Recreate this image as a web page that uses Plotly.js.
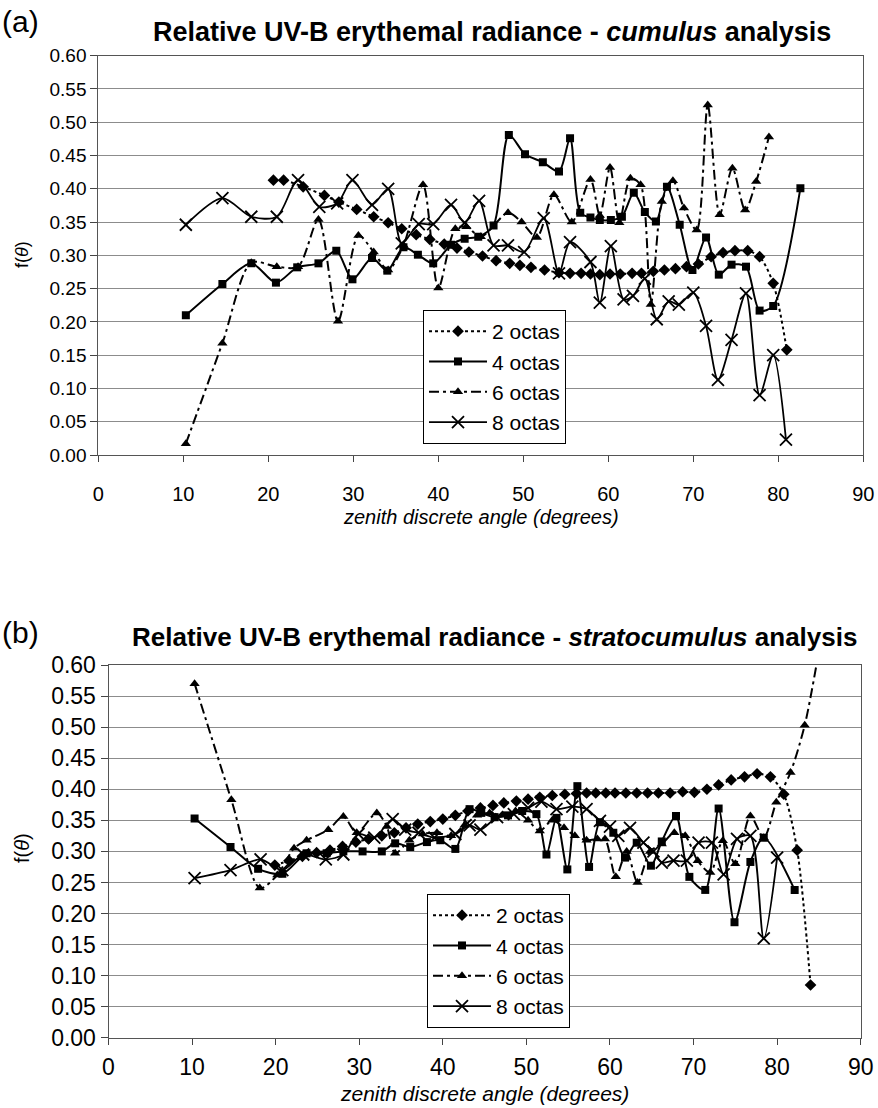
<!DOCTYPE html>
<html>
<head>
<meta charset="utf-8">
<script src="https://cdn.plot.ly/plotly-3.0.1.min.js"></script>
<style>
html, body { margin: 0; padding: 0; background: #ffffff; }
#chart { width: 878px; height: 1108px; }
</style>
</head>
<body>
<div id="chart"></div>
<script>
// ---------- (a) cumulus ----------
const cuAngle2 = [20.6, 21.8, 24.1, 26.6, 28.3, 30.4, 32.4, 34.1, 35.7, 37.4, 39.0, 40.7, 42.2, 43.6, 45.2, 46.8, 48.4, 49.6, 50.9, 52.5, 54.2, 55.5, 56.8, 57.9, 59.0, 60.2, 61.4, 62.8, 63.9, 65.3, 66.6, 67.9, 69.2, 70.6, 72.1, 73.5, 74.9, 76.4, 77.8, 79.4, 81.0];
const cuF2 = [0.413, 0.413, 0.403, 0.390, 0.380, 0.369, 0.358, 0.349, 0.340, 0.331, 0.324, 0.317, 0.311, 0.305, 0.299, 0.292, 0.288, 0.285, 0.282, 0.278, 0.274, 0.273, 0.273, 0.272, 0.271, 0.272, 0.272, 0.273, 0.273, 0.276, 0.278, 0.280, 0.283, 0.287, 0.298, 0.304, 0.307, 0.307, 0.298, 0.258, 0.158];

const cuAngle4 = [10.3, 14.6, 18.0, 20.9, 23.4, 25.9, 28.0, 29.9, 32.2, 34.0, 35.9, 37.6, 39.4, 41.5, 43.1, 44.7, 46.5, 48.3, 50.2, 52.3, 54.2, 55.5, 56.7, 57.9, 59.0, 60.3, 61.6, 63.0, 64.3, 65.6, 66.9, 68.4, 69.9, 71.5, 73.0, 74.5, 76.2, 77.8, 79.4, 82.6];
const cuF4 = [0.210, 0.257, 0.288, 0.259, 0.282, 0.288, 0.307, 0.264, 0.296, 0.277, 0.312, 0.301, 0.288, 0.316, 0.325, 0.328, 0.345, 0.481, 0.452, 0.440, 0.426, 0.476, 0.364, 0.357, 0.353, 0.353, 0.358, 0.394, 0.365, 0.351, 0.403, 0.346, 0.278, 0.327, 0.271, 0.286, 0.283, 0.217, 0.224, 0.401];

const cuAngle6 = [10.3, 14.6, 18.0, 21.0, 23.5, 25.9, 28.2, 30.6, 32.4, 34.1, 35.9, 38.2, 40.0, 42.0, 43.3, 45.0, 48.2, 49.8, 51.6, 53.6, 55.7, 57.9, 59.0, 60.2, 61.3, 62.6, 63.8, 65.0, 66.3, 67.6, 68.9, 70.4, 71.7, 73.1, 74.6, 76.1, 77.4, 78.9];
const cuF6 = [0.017, 0.168, 0.289, 0.283, 0.283, 0.354, 0.201, 0.330, 0.305, 0.278, 0.315, 0.406, 0.251, 0.340, 0.343, 0.328, 0.364, 0.350, 0.327, 0.391, 0.350, 0.414, 0.360, 0.432, 0.349, 0.416, 0.406, 0.226, 0.381, 0.412, 0.371, 0.338, 0.526, 0.361, 0.431, 0.368, 0.411, 0.478];

const cuAngle8 = [10.3, 14.6, 18.0, 21.0, 23.5, 26.0, 28.1, 29.9, 32.2, 34.1, 35.7, 37.7, 39.4, 41.5, 43.1, 44.8, 46.5, 48.2, 50.1, 52.4, 54.2, 55.5, 57.9, 59.0, 60.3, 61.8, 62.9, 64.3, 65.7, 67.1, 68.3, 70.0, 71.5, 72.9, 74.5, 76.2, 77.8, 79.4, 80.9];
const cuF8 = [0.346, 0.386, 0.358, 0.358, 0.413, 0.373, 0.378, 0.413, 0.376, 0.400, 0.318, 0.347, 0.347, 0.376, 0.349, 0.382, 0.315, 0.315, 0.305, 0.356, 0.273, 0.320, 0.290, 0.229, 0.314, 0.234, 0.239, 0.265, 0.204, 0.231, 0.226, 0.244, 0.194, 0.113, 0.173, 0.243, 0.090, 0.150, 0.023];

// ---------- (b) stratocumulus ----------
const stAngle2 = [19.9, 21.6, 23.2, 24.9, 26.5, 28.0, 29.6, 31.1, 32.7, 34.2, 35.6, 37.0, 38.5, 40.0, 41.5, 43.0, 44.5, 46.0, 47.3, 48.8, 50.2, 51.6, 53.1, 54.6, 56.0, 57.2, 58.3, 59.5, 60.6, 61.9, 63.2, 64.5, 65.8, 67.2, 68.7, 70.1, 71.6, 73.0, 74.5, 76.1, 77.6, 79.2, 80.8, 82.4, 84.0];
const stF2 = [0.278, 0.285, 0.292, 0.298, 0.302, 0.308, 0.315, 0.320, 0.325, 0.330, 0.338, 0.344, 0.348, 0.352, 0.358, 0.365, 0.370, 0.374, 0.378, 0.381, 0.384, 0.387, 0.390, 0.392, 0.393, 0.394, 0.394, 0.394, 0.394, 0.394, 0.394, 0.394, 0.394, 0.394, 0.396, 0.395, 0.400, 0.407, 0.415, 0.420, 0.425, 0.420, 0.392, 0.302, 0.085];

const stAngle4 = [10.3, 14.6, 17.9, 20.8, 23.7, 26.1, 28.1, 30.4, 32.7, 34.3, 36.1, 38.1, 39.7, 41.5, 43.2, 44.6, 46.2, 47.8, 49.5, 51.2, 52.4, 53.6, 54.9, 56.1, 57.5, 58.8, 60.4, 61.8, 63.2, 64.9, 66.2, 67.9, 69.5, 71.4, 73.0, 74.9, 76.8, 78.4, 82.1];
const stF4 = [0.353, 0.307, 0.272, 0.264, 0.297, 0.297, 0.300, 0.300, 0.300, 0.313, 0.307, 0.315, 0.318, 0.304, 0.368, 0.362, 0.355, 0.358, 0.365, 0.360, 0.295, 0.354, 0.271, 0.405, 0.275, 0.347, 0.330, 0.290, 0.314, 0.277, 0.316, 0.357, 0.259, 0.238, 0.369, 0.186, 0.283, 0.322, 0.238];

const stAngle6 = [10.3, 14.7, 18.1, 20.2, 22.2, 23.7, 26.3, 28.1, 29.7, 32.1, 33.3, 34.3, 36.0, 37.6, 39.3, 41.0, 42.6, 44.1, 45.6, 47.2, 48.7, 50.2, 51.6, 53.1, 54.5, 55.8, 57.2, 58.5, 59.4, 60.7, 62.0, 63.3, 64.8, 66.2, 67.7, 69.0, 70.5, 72.0, 73.5, 75.0, 76.8, 78.4, 79.9, 81.6, 83.3, 84.9];
const stF6 = [0.570, 0.383, 0.241, 0.262, 0.305, 0.318, 0.335, 0.356, 0.330, 0.362, 0.340, 0.297, 0.318, 0.328, 0.330, 0.325, 0.342, 0.358, 0.362, 0.358, 0.365, 0.350, 0.333, 0.350, 0.338, 0.325, 0.318, 0.320, 0.320, 0.259, 0.300, 0.250, 0.300, 0.312, 0.330, 0.325, 0.285, 0.266, 0.317, 0.280, 0.357, 0.322, 0.379, 0.427, 0.503, 0.615];

const stAngle8 = [10.3, 14.6, 18.2, 20.8, 23.3, 26.0, 28.1, 29.9, 31.8, 34.0, 35.5, 37.1, 39.0, 41.5, 43.2, 44.5, 46.5, 48.5, 50.2, 51.8, 53.6, 55.5, 57.2, 58.8, 60.0, 61.0, 62.4, 64.0, 65.2, 66.2, 67.6, 69.2, 70.6, 72.2, 73.6, 75.2, 76.8, 78.4, 80.0];
const stF8 = [0.257, 0.270, 0.287, 0.270, 0.295, 0.287, 0.295, 0.328, 0.322, 0.352, 0.335, 0.330, 0.322, 0.328, 0.342, 0.335, 0.355, 0.360, 0.370, 0.380, 0.368, 0.372, 0.368, 0.349, 0.340, 0.325, 0.338, 0.314, 0.300, 0.282, 0.285, 0.285, 0.314, 0.314, 0.263, 0.320, 0.325, 0.160, 0.290];

const seriesNames = ['2 octas', '4 octas', '6 octas', '8 octas'];
const xTickVals = [0, 10, 20, 30, 40, 50, 60, 70, 80, 90];
const yTickVals = [0, 0.05, 0.10, 0.15, 0.20, 0.25, 0.30, 0.35, 0.40, 0.45, 0.50, 0.55, 0.60];

const FONT = 'Liberation Sans, Arial, Helvetica, sans-serif';

const styles = [
  {line: {color: '#000', width: 2, dash: '3px,3px', shape: 'spline', smoothing: 0.8},
   marker: {symbol: 'diamond', size: 9, color: '#000'}},
  {line: {color: '#000', width: 2, dash: 'solid', shape: 'spline', smoothing: 0.8},
   marker: {symbol: 'square', size: 8, color: '#000'}},
  {line: {color: '#000', width: 2, dash: '10px,4px,3px,4px', shape: 'spline', smoothing: 0.8},
   marker: {symbol: 'triangle-up', size: 9, color: '#000'}},
  {line: {color: '#000', width: 1.8, dash: 'solid', shape: 'spline', smoothing: 0.8},
   marker: {symbol: 'x-thin-open', size: 12, color: '#000', line: {color: '#000', width: 1.8}}}
];

function mk(x, y, i, xa, ya, leg) {
  return {
    type: 'scatter', mode: 'lines+markers',
    x: x, y: y, name: seriesNames[i],
    xaxis: xa, yaxis: ya, legend: leg,
    line: styles[i].line, marker: styles[i].marker,
    hoverinfo: 'x+y'
  };
}

const data = [
  mk(cuAngle2, cuF2, 0, 'x', 'y', 'legend'),
  mk(cuAngle4, cuF4, 1, 'x', 'y', 'legend'),
  mk(cuAngle6, cuF6, 2, 'x', 'y', 'legend'),
  mk(cuAngle8, cuF8, 3, 'x', 'y', 'legend'),
  mk(stAngle2, stF2, 0, 'x2', 'y2', 'legend2'),
  mk(stAngle4, stF4, 1, 'x2', 'y2', 'legend2'),
  mk(stAngle6, stF6, 2, 'x2', 'y2', 'legend2'),
  mk(stAngle8, stF8, 3, 'x2', 'y2', 'legend2')
];

function xAxis(domain, anchor, size, standoff) {
  return {
    domain: domain, anchor: anchor, range: [0, 90],
    tickvals: xTickVals, ticks: 'outside', ticklen: 6, tickcolor: '#444',
    ticklabelstandoff: standoff,
    showline: true, linecolor: '#555', linewidth: 1, mirror: true,
    showgrid: false, zeroline: false,
    tickfont: {family: FONT, size: size, color: '#000'}
  };
}
function yAxis(domain, anchor, size) {
  return {
    domain: domain, anchor: anchor, range: [0, 0.6],
    tickvals: yTickVals, tickformat: '.2f', ticks: 'outside', ticklen: 7, tickcolor: '#444',
    showline: true, linecolor: '#555', linewidth: 1, mirror: true,
    showgrid: true, gridcolor: '#8c8c8c', gridwidth: 1, zeroline: false,
    tickfont: {family: FONT, size: size, color: '#000'}
  };
}

const H = 1108, W = 878;
function py(px) { return 1 - px / H; }
function pxX(px) { return px / W; }

const legendStyle = (x, y, size) => ({
  x: x, y: y, xanchor: 'left', yanchor: 'top',
  bgcolor: '#fff', bordercolor: '#000', borderwidth: 1,
  font: {family: FONT, size: size, color: '#000'},
  itemwidth: 58, tracegroupgap: 0
});

const ann = (text, x, y, size, opts) => Object.assign({
  text: text, xref: 'paper', yref: 'paper', x: x, y: y,
  xanchor: 'center', yanchor: 'middle', showarrow: false,
  font: {family: FONT, size: size, color: '#000'}
}, opts || {});

const layout = {
  width: W, height: H,
  margin: {l: 0, r: 0, t: 0, b: 0},
  paper_bgcolor: '#fff', plot_bgcolor: '#fff',
  showlegend: true,
  xaxis: xAxis([pxX(98.3), pxX(863.3)], 'y', 20, 15),
  yaxis: yAxis([py(455), py(55.7)], 'x', 19),
  xaxis2: xAxis([pxX(108.5), pxX(860.7)], 'y2', 23, 3),
  yaxis2: yAxis([py(1037.8), py(665)], 'x2', 23),
  legend: legendStyle(pxX(423), py(310), 21),
  legend2: legendStyle(pxX(427), py(894), 21),
  annotations: [
    ann('(a)', 0, py(21), 30, {xanchor: 'left'}),
    ann('<b>Relative UV-B erythemal radiance - <i>cumulus</i> analysis</b>', pxX(492), py(32), 27),
    ann('<i>zenith discrete angle (degrees)</i>', pxX(481), py(517), 20),
    ann('f(<i>θ</i>)', pxX(22), py(255), 18, {textangle: -90}),
    ann('(b)', 0, py(632), 30, {xanchor: 'left'}),
    ann('<b>Relative UV-B erythemal radiance - <i>stratocumulus</i> analysis</b>', pxX(494), py(637), 26),
    ann('<i>zenith discrete angle (degrees)</i>', pxX(484.6), py(1093), 21),
    ann('f(<i>θ</i>)', pxX(22), py(848), 20, {textangle: -90})
  ]
};

Plotly.newPlot('chart', data, layout, {displayModeBar: false, staticPlot: true});
</script>
</body>
</html>
